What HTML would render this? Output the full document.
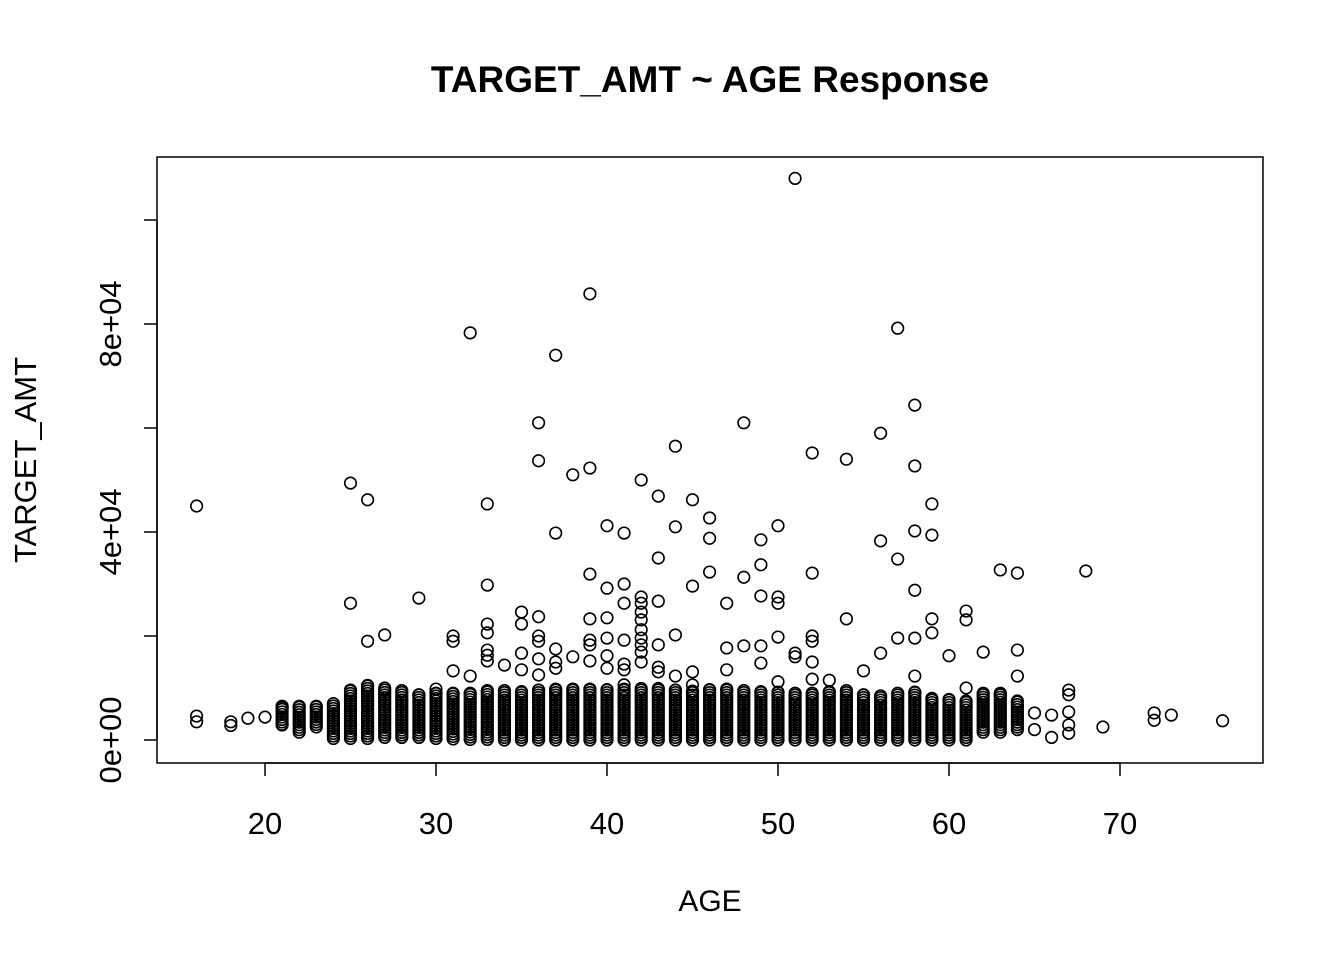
<!DOCTYPE html>
<html><head><meta charset="utf-8"><style>
html,body{margin:0;padding:0;background:#fff;}
svg text{font-family:"Liberation Sans",Arial,sans-serif;fill:#000;}
</style></head><body>
<svg id="chart" width="1344" height="960" viewBox="0 0 1344 960" xmlns="http://www.w3.org/2000/svg">
<rect width="1344" height="960" fill="#fff"/>
<text x="710" y="92" text-anchor="middle" font-size="37" font-weight="bold">TARGET_AMT ~ AGE Response</text>
<rect x="157" y="157" width="1106" height="606" fill="none" stroke="#000" stroke-width="1.5"/>
<text x="710" y="911" text-anchor="middle" font-size="30">AGE</text>
<text transform="translate(36,460) rotate(-90)" text-anchor="middle" font-size="31">TARGET_AMT</text>
<g id="axes"></g>
<g id="pts" fill="none" stroke="#000" stroke-width="1.6"></g>
</svg>
<script>
const xTicks=[20,30,40,50,60,70];
const yTicks=[0,20000,40000,60000,80000,100000];
const yTickLabels=["0e+00","","4e+04","","8e+04",""];
// outlier points
const ages=[16,16,16,18,18,19,20,21,21,25,25,26,26,27,29,30,31,31,31,32,32,33,33,33,33,33,33,33,34,35,35,35,35,36,36,36,36,36,36,36,37,37,37,37,37,38,38,39,39,39,39,39,39,39,40,40,40,40,40,40,41,41,41,41,41,41,41,42,42,42,42,42,42,42,42,42,42,43,43,43,43,43,43,44,44,44,44,45,45,45,45,46,46,46,47,47,47,48,48,48,49,49,49,49,49,50,50,50,50,50,51,51,51,52,52,52,52,52,52,53,54,54,55,56,56,56,57,57,57,58,58,58,58,58,58,59,59,59,59,60,61,61,61,62,63,63,64,64,64,65,65,66,66,67,67,67,67,67,68,69,72,72,73,76];
const amts=[45000,4600,3500,3500,2800,4200,4400,6200,2900,49400,26300,46200,19000,20200,27300,9800,20000,19000,13300,78300,12300,45400,29800,22300,20600,17300,16300,15200,14400,24600,22300,16700,13500,61000,53700,23700,20000,19000,15600,12500,74000,39800,17500,15000,13800,51000,16000,85800,52300,31900,23300,19200,18300,15200,41200,29200,23500,19600,16200,13800,39800,30000,26300,19200,14600,13500,10600,50000,27500,26300,24600,23100,21200,19600,18300,16900,15000,46900,35000,26700,18300,14000,13100,56500,41000,20200,12300,46200,29600,13100,10600,42700,38800,32300,26300,17700,13500,61000,31300,18100,38500,33700,27700,18100,14800,41200,27500,26300,19800,11200,108000,16700,16000,55200,32100,20000,19000,15000,11700,11500,54000,23300,13300,59000,38300,16700,79200,34800,19600,64400,52700,40200,28800,19600,12300,45400,39400,23300,20600,16200,24800,23100,10000,16900,32700,8700,32100,17300,12300,5200,2000,4800,500,9600,8700,5400,2900,1300,32500,2500,5200,3800,4800,3700];
// dense band per age
const bandAge=[21,22,23,24,25,26,27,28,29,30,31,32,33,34,35,36,37,38,39,40,41,42,43,44,45,46,47,48,49,50,51,52,53,54,55,56,57,58,59,60,61,62,63,64];
const bandLo=[3000,1500,2500,300,300,300,500,500,500,300,200,100,100,0,0,0,0,0,0,0,0,0,0,0,0,0,0,0,0,0,0,0,0,0,0,0,0,0,0,0,0,1500,1500,2000];
const bandHi=[6500,6500,6500,7000,9600,10500,10000,9500,8700,9000,9000,9000,9500,9500,9300,9600,9800,9800,9800,9700,9800,9900,9900,9600,9400,9700,9800,9500,9300,9200,9000,9000,9300,9500,8700,8500,9000,9200,8000,7800,7500,9000,9000,7500];
const step=480;
const X=a=>265+(a-20)*17.1;
const Y=v=>740-v*0.0052;
const NS="http://www.w3.org/2000/svg";
const axes=document.getElementById('axes');
function line(x1,y1,x2,y2,name){const l=document.createElementNS(NS,'line');l.setAttribute('x1',x1);l.setAttribute('y1',y1);l.setAttribute('x2',x2);l.setAttribute('y2',y2);l.setAttribute('stroke','#000');l.setAttribute('stroke-width','1.5');


axes.appendChild(l);}
line(X(20),763,X(70),763,'x-axis-line');
line(157,Y(0),157,Y(100000),'y-axis-line');
xTicks.forEach(t=>{line(X(t),763,X(t),776,'x-tick');
const tx=document.createElementNS(NS,'text');tx.setAttribute('x',X(t));tx.setAttribute('y',834);tx.setAttribute('text-anchor','middle');tx.setAttribute('font-size','31');tx.textContent=t;


axes.appendChild(tx);});
yTicks.forEach((t,i)=>{line(144,Y(t),157,Y(t),'y-tick');if(yTickLabels[i]){
const tx=document.createElementNS(NS,'text');tx.setAttribute('transform','translate(121,'+Y(t)+') rotate(-90)');tx.setAttribute('text-anchor','middle');tx.setAttribute('font-size','31');tx.textContent=yTickLabels[i];


axes.appendChild(tx);}});
const pts=document.getElementById('pts');
function pt(a,v){const c=document.createElementNS(NS,'circle');c.setAttribute('cx',X(a));c.setAttribute('cy',Y(v));c.setAttribute('r','5.8');


pts.appendChild(c);}
bandAge.forEach((a,i)=>{for(let v=bandLo[i];v<=bandHi[i];v+=step)pt(a,v);pt(a,bandHi[i]);});
ages.forEach((a,i)=>pt(a,amts[i]));
</script>
</body></html>
